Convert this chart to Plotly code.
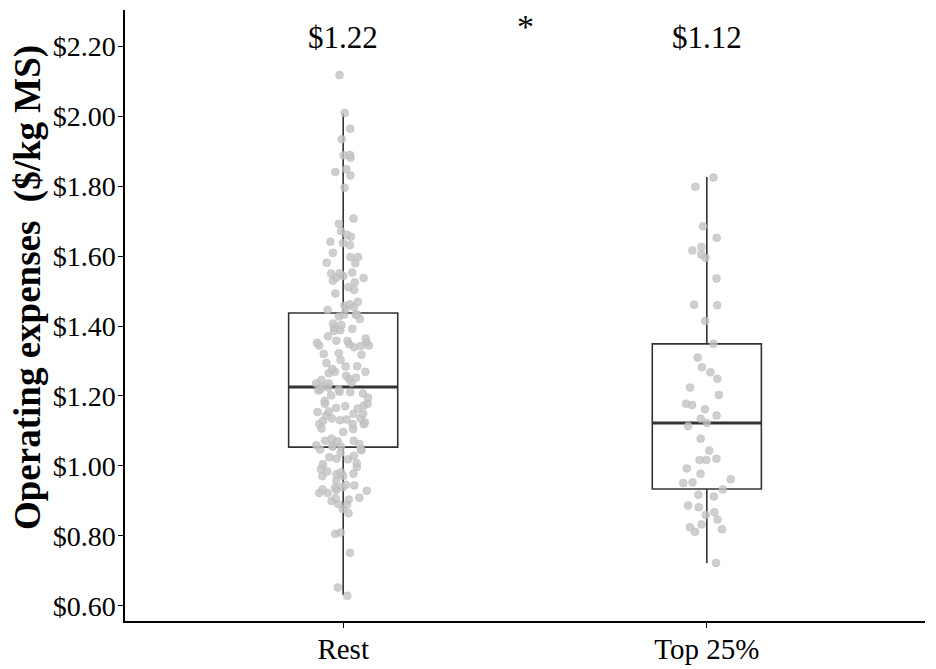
import plotly.graph_objects as go

categories = ["Rest", "Top 25%"]
median_labels = ["$1.22", "$1.12"]
signif_label = "*"
y_title = "<b>Operating expenses  ($/kg MS)</b>"

# box statistics
q1 = [1.054, 0.934]
median = [1.226, 1.123]
q3 = [1.437, 1.349]
lowerfence = [0.631, 0.723]
upperfence = [2.009, 1.826]

rest_values = [
    2.117, 2.009, 1.964, 1.934, 1.889, 1.881, 1.888, 1.848, 1.840, 1.830,
    1.795, 1.707, 1.692, 1.671, 1.661, 1.655, 1.641, 1.631, 1.637, 1.609,
    1.597, 1.597, 1.581, 1.579, 1.553, 1.551, 1.539, 1.543, 1.550, 1.537,
    1.529, 1.525, 1.511, 1.503, 1.493, 1.469, 1.462, 1.458, 1.454, 1.446,
    1.449, 1.433, 1.432, 1.427, 1.432, 1.420, 1.407, 1.403, 1.395, 1.386,
    1.388, 1.392, 1.371, 1.364,
    1.343, 1.352, 1.344, 1.357, 1.344, 1.354, 1.348, 1.339, 1.358, 1.318,
    1.322, 1.320, 1.303, 1.294, 1.284, 1.285, 1.277, 1.269, 1.269, 1.265,
    1.258, 1.246, 1.252, 1.249, 1.236, 1.236, 1.238, 1.227, 1.219, 1.216,
    1.211, 1.219, 1.224, 1.207, 1.212, 1.202, 1.195, 1.186, 1.178, 1.178,
    1.171, 1.173, 1.166, 1.164, 1.154, 1.149, 1.149, 1.156, 1.144, 1.133,
    1.136, 1.136, 1.131, 1.120, 1.129, 1.124, 1.119, 1.120, 1.106, 1.107,
    1.097, 1.078, 1.072, 1.072, 1.071, 1.063, 1.059, 1.055, 1.059, 1.047,
    1.049, 1.055, 1.045, 1.037, 1.029, 1.025, 1.021, 1.019, 1.005, 1.008,
    0.997, 0.991, 0.982, 0.976, 0.971, 0.984, 0.971, 0.978, 0.958, 0.946,
    0.939, 0.933, 0.944, 0.938, 0.929, 0.923, 0.931, 0.923, 0.908, 0.909,
    0.900, 0.904, 0.889, 0.891, 0.877, 0.865, 0.806, 0.810, 0.752, 0.653,
    0.629,
]

top_values = [
    1.824, 1.798, 1.685, 1.652, 1.616, 1.626, 1.594, 1.604, 1.536, 1.461,
    1.459, 1.414, 1.349, 1.310, 1.282, 1.268, 1.249, 1.224, 1.203, 1.178,
    1.174, 1.162, 1.144, 1.135, 1.123, 1.114, 1.078, 1.044, 1.017, 1.021,
    1.017, 0.993, 0.978, 0.962, 0.951, 0.953, 0.933, 0.918, 0.913, 0.887,
    0.882, 0.868, 0.860, 0.847, 0.833, 0.825, 0.812, 0.819, 0.723,
]

y_tickvals = [0.6, 0.8, 1.0, 1.2, 1.4, 1.6, 1.8, 2.0, 2.2]
y_ticktext = ["$0.60", "$0.80", "$1.00", "$1.20", "$1.40", "$1.60", "$1.80", "$2.00", "$2.20"]

FONT = "Liberation Serif, Times New Roman, serif"
BOX_W = 0.3

fig = go.Figure()

# main boxes from statistics
fig.add_trace(go.Box(
    x=categories, q1=q1, median=median, q3=q3,
    lowerfence=lowerfence, upperfence=upperfence,
    width=BOX_W, whiskerwidth=0, boxpoints=False,
    fillcolor="rgba(255,255,255,0)",
    line=dict(color="#333333", width=1.6),
    showlegend=False, hoverinfo="skip",
))
# thick median line (zero-height box)
fig.add_trace(go.Box(
    x=categories, q1=median, median=median, q3=median,
    lowerfence=median, upperfence=median,
    width=BOX_W, whiskerwidth=0, boxpoints=False,
    fillcolor="rgba(255,255,255,0)",
    line=dict(color="#333333", width=3),
    showlegend=False, hoverinfo="skip",
))
# jittered points
for cat, vals in zip(categories, [rest_values, top_values]):
    fig.add_trace(go.Box(
        x=[cat] * len(vals), y=vals,
        width=BOX_W, boxpoints="all", jitter=0.5, pointpos=0,
        fillcolor="rgba(255,255,255,0)",
        line=dict(color="rgba(0,0,0,0)", width=0),
        marker=dict(color="rgba(195,195,195,0.8)", size=8,
                    line=dict(color="rgba(170,170,170,0.6)", width=0.5)),
        showlegend=False, hoverinfo="y",
    ))

for cat, lab in zip(categories, median_labels):
    fig.add_annotation(x=cat, y=1, xref="x", yref="paper", text=lab,
                       showarrow=False, yanchor="top", yshift=-8,
                       font=dict(family=FONT, size=31, color="black"))
fig.add_annotation(x=0.5, y=1, xref="x", yref="paper", text=signif_label,
                   showarrow=False, yanchor="top", yshift=4,
                   font=dict(family=FONT, size=34, color="black"))
# y-axis title
fig.add_annotation(x=0, y=0.545, xref="paper", yref="paper", text=y_title,
                   textangle=-90, showarrow=False, xanchor="center",
                   yanchor="middle", xshift=-97,
                   font=dict(family=FONT, size=37, color="black"))

# page body has an 8px margin: size and margins compensate for it
fig.update_layout(
    width=928, height=661,
    margin=dict(l=117, r=11, t=2, b=48),
    paper_bgcolor="white", plot_bgcolor="white",
    boxmode="overlay",
    font=dict(family=FONT, color="black"),
    xaxis=dict(
        type="category", categoryorder="array", categoryarray=categories,
        range=[-0.6, 1.6], showgrid=False, zeroline=False, automargin=False,
        showline=True, linecolor="black", linewidth=1.5,
        ticks="outside", ticklen=5, tickcolor="black", tickwidth=1.2,
        ticklabelstandoff=-4,
        tickfont=dict(family=FONT, size=29, color="black"),
    ),
    yaxis=dict(
        range=[0.557, 2.303], showgrid=False, zeroline=False, automargin=False,
        showline=True, linecolor="black", linewidth=1.5,
        ticks="outside", ticklen=5, tickcolor="black", tickwidth=1.2,
        tickvals=y_tickvals, ticktext=y_ticktext, ticklabelstandoff=-3,
        tickfont=dict(family=FONT, size=28, color="black"),
    ),
)

fig.write_html("out.html")
